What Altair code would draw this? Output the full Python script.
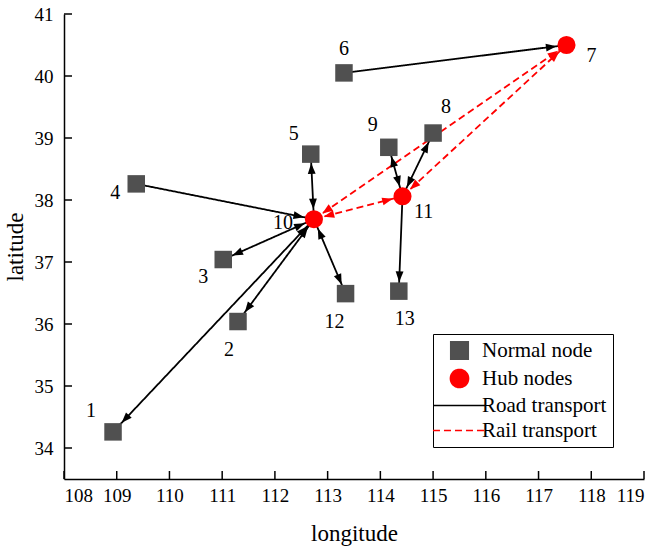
import math
import pandas as pd
import altair as alt

# ---------------- data ----------------
node_ids = ["1", "2", "3", "4", "5", "6", "7", "8", "9", "10", "11", "12", "13"]
node_lon = [108.93, 111.30, 111.02, 109.37, 112.68, 113.31, 117.53, 115.00, 114.16, 112.74, 114.42, 113.34, 114.35]
node_lat = [34.26, 36.04, 37.04, 38.26, 38.74, 40.05, 40.50, 39.08, 38.85, 37.69, 38.06, 36.49, 36.53]
hub_ids = ["7", "10", "11"]

road_src = ["6", "4", "10", "10", "10", "10", "10", "11", "11", "11"]
road_dst = ["7", "10", "3", "2", "1", "5", "12", "9", "8", "13"]
road_both = [False, False, True, True, True, True, True, True, True, False]

rail_src = ["10", "10", "11"]
rail_dst = ["11", "7", "7"]
rail_both = [True, True, True]

x_ticks = list(range(108, 120))
y_ticks = list(range(34, 42))

legend_items = ["Normal node", "Hub nodes", "Road transport", "Rail transport"]

# ---------------- layout ----------------
W, H = 580, 465
X_DOM = [108, 119]
Y_DOM = [33.5, 41]
kx = W / (X_DOM[1] - X_DOM[0])
ky = H / (Y_DOM[1] - Y_DOM[0])
FONT = "Liberation Serif"
SQ = 306      # square marker area (side ~17.5px)
CI = 372      # circle marker area (diameter ~19.3px)

# label offsets in pixels (dx right, dy down) relative to node centre
label_off = {
    "1": (-22, -21), "2": (-9, 28), "3": (-20, 17), "4": (-21, 9),
    "5": (-17, -20), "6": (0, -24), "7": (25, 11), "8": (13, -26),
    "9": (-16, -22), "10": (-31, 4), "11": (21, 16), "12": (-11, 28),
    "13": (6, 28),
}

pos = {n: (lo, la) for n, lo, la in zip(node_ids, node_lon, node_lat)}

nodes = pd.DataFrame({
    "id": node_ids,
    "lon": node_lon,
    "lat": node_lat,
    "type": ["Hub nodes" if n in hub_ids else "Normal node" for n in node_ids],
})
nodes["llon"] = [lo + label_off[n][0] / kx for n, lo in zip(node_ids, node_lon)]
nodes["llat"] = [la - label_off[n][1] / ky for n, la in zip(node_ids, node_lat)]

edge_rows = []
head_rows = []


def head(a, b, mode):
    (la0, lt0), (la1, lt1) = pos[a], pos[b]
    dxp = (la1 - la0) * kx
    dyp = -(lt1 - lt0) * ky
    L = math.hypot(dxp, dyp)
    ux, uy = dxp / L, dyp / L
    if b in hub_ids:
        d = math.sqrt(CI) / 2 + 0.5
    else:
        d = (math.sqrt(SQ) / 2) / max(abs(ux), abs(uy)) + 0.5
    return {
        "lon": la1 - d * ux / kx,
        "lat": lt1 + d * uy / ky,
        "angle": math.degrees(math.atan2(uy, ux)) % 360,
        "type": mode,
    }


for srcs, dsts, both, mode in [
    (road_src, road_dst, road_both, "Road transport"),
    (rail_src, rail_dst, rail_both, "Rail transport"),
]:
    for s, t, bb in zip(srcs, dsts, both):
        edge_rows.append({"lon": pos[s][0], "lat": pos[s][1],
                          "lon2": pos[t][0], "lat2": pos[t][1], "type": mode})
        head_rows.append(head(s, t, mode))
        if bb:
            head_rows.append(head(t, s, mode))

edges = pd.DataFrame(edge_rows)
heads = pd.DataFrame(head_rows)

# ---------------- scales / axes ----------------
xs = alt.Scale(domain=X_DOM, zero=False, nice=False)
ys = alt.Scale(domain=Y_DOM, zero=False, nice=False)
AX = alt.Axis(values=x_ticks, title="longitude", ticks=False, tickSize=0, grid=False,
              labelPadding=7, titlePadding=17, format="d")
AY = alt.Axis(values=y_ticks, title="latitude", ticks=False, tickSize=0, grid=False,
              labelPadding=11, titlePadding=7, format="d")

color_scale = alt.Scale(domain=legend_items, range=["#505050", "#ff0000", "#000000", "#ff0000"])
shape_scale = alt.Scale(domain=legend_items,
                        range=["square", "circle", "M-2.75,0H2.75", "M-2.75,0H2.75"])
size_scale = alt.Scale(domain=legend_items, range=[SQ, CI, SQ, SQ])
dash_scale = alt.Scale(domain=legend_items, range=[[1, 0], [1, 0], [1, 0], [7, 4]])

LEG = alt.Legend(
    title=None, orient="none", legendX=369, legendY=320,
    labelFont=FONT, labelFontSize=21, labelColor="black", labelLimit=0,
    strokeColor="black", padding=6, rowPadding=3, symbolOffset=10, labelOffset=12,
    symbolStrokeWidth=1.6,
)

# ---------------- layers ----------------
lines = alt.Chart(edges).mark_rule(strokeWidth=1.8).encode(
    x=alt.X("lon:Q", scale=xs, axis=AX),
    y=alt.Y("lat:Q", scale=ys, axis=AY),
    x2="lon2:Q",
    y2="lat2:Q",
    color=alt.Color("type:N", scale=color_scale, legend=LEG),
    strokeDash=alt.StrokeDash("type:N", scale=dash_scale, legend=LEG),
)

arrows = alt.Chart(heads).mark_point(
    filled=True, opacity=1, shape="M0,0L-2,-0.75L-2,0.75Z", size=110
).encode(
    x=alt.X("lon:Q", scale=xs, axis=AX),
    y=alt.Y("lat:Q", scale=ys, axis=AY),
    angle=alt.Angle("angle:Q", scale=None),
    color=alt.Color("type:N", scale=color_scale, legend=LEG),
)

pts = alt.Chart(nodes).mark_point(filled=True, opacity=1).encode(
    x=alt.X("lon:Q", scale=xs, axis=AX),
    y=alt.Y("lat:Q", scale=ys, axis=AY),
    color=alt.Color("type:N", scale=color_scale, legend=LEG),
    shape=alt.Shape("type:N", scale=shape_scale, legend=LEG),
    size=alt.Size("type:N", scale=size_scale, legend=LEG),
)

labels = alt.Chart(nodes).mark_text(
    font=FONT, fontSize=20, color="black", align="center", baseline="middle"
).encode(
    x=alt.X("llon:Q", scale=xs, axis=AX),
    y=alt.Y("llat:Q", scale=ys, axis=AY),
    text="id:N",
)

xt = alt.Chart(pd.DataFrame({"v": x_ticks})).mark_rule(color="black", strokeWidth=1.5).encode(
    x=alt.X("v:Q", scale=xs, axis=AX),
    y=alt.value(H), y2=alt.value(H - 8),
)
yt = alt.Chart(pd.DataFrame({"v": y_ticks})).mark_rule(color="black", strokeWidth=1.5).encode(
    y=alt.Y("v:Q", scale=ys, axis=AY),
    x=alt.value(0), x2=alt.value(8),
)

chart = alt.layer(lines, arrows, pts, labels, xt, yt).properties(
    width=W, height=H,
    padding={"left": 64, "top": 14, "right": 15, "bottom": 70},
    autosize=alt.AutoSizeParams(type="none"),
    background="white",
).configure_view(stroke=None).configure_axis(
    labelFont=FONT, labelFontSize=19, labelColor="black",
    titleFont=FONT, titleFontSize=23, titleFontWeight="normal", titleColor="black",
    domainColor="black", domainWidth=1.5,
)

chart.save("out.html", embed_options={"renderer": "svg", "actions": False})
